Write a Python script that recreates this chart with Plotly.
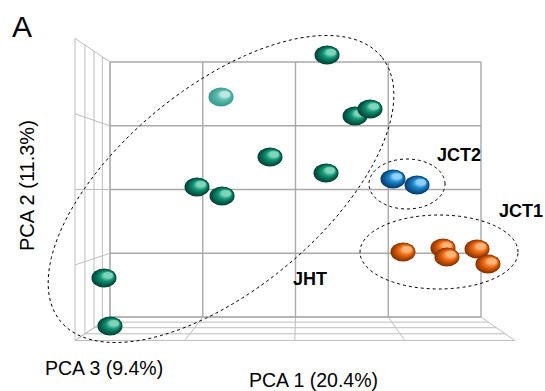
import math
import plotly.graph_objects as go

# ---------------- data (projected PCA scores) ----------------
pca_ticks_x = [-20, -10, 0, 10, 20]      # PCA 1 grid
pca_ticks_y = [-20, -10, 0, 10, 20]      # PCA 2 grid
pca3_levels = [0, 1, 2, 3, 4]            # PCA 3 depth grid

jht_x = [-20.00, -20.65, -7.92, -10.62, -2.75, 3.29, 6.42, 8.03, 3.40]
jht_y = [-21.41, -13.88, -1.02, 0.39, 5.10, 2.59, 11.53, 12.63, 21.10]
jht_far_x = [-8.03]
jht_far_y = [14.51]

jct2_x = [10.51, 13.10]
jct2_y = [1.65, 0.71]

jct1_x = [11.59, 15.90, 16.33, 19.57, 20.75]
jct1_y = [-9.80, -9.18, -10.59, -9.33, -11.69]

group_labels = ["JHT", "JCT2", "JCT1"]
axis_titles = ["PCA 1 (20.4%)", "PCA 2 (11.3%)", "PCA 3 (9.4%)"]

# ---------------- geometry helpers ----------------
W, H = 545, 391
PX_X = 9.275   # pixels per PCA-1 unit
PX_Y = 6.375   # pixels per PCA-2 unit
X0 = -20 - 110 / PX_X
X1 = X0 + W / PX_X
Y1 = 20 + 62 / PX_Y
Y0 = Y1 - H / PX_Y
VP = (0.4, -0.1)
DK = 0.039


def proj(x, y, k):
    s = 1.0 / (1.0 - DK * k)
    return VP[0] + (x - VP[0]) * s, VP[1] + (y - VP[1]) * s


def seg(xs, ys, a, b):
    xs += [a[0], b[0], None]
    ys += [a[1], b[1], None]


xmin, xmax = pca_ticks_x[0], pca_ticks_x[-1]
ymin, ymax = pca_ticks_y[0], pca_ticks_y[-1]
kmax = pca3_levels[-1]

# back wall
bx, by = [], []
for t in pca_ticks_x:
    seg(bx, by, (t, ymin), (t, ymax))
for t in pca_ticks_y:
    seg(bx, by, (xmin, t), (xmax, t))

# left wall + floor
sx, sy = [], []
for k in pca3_levels:
    seg(sx, sy, proj(xmin, ymin, k), proj(xmin, ymax, k))
    seg(sx, sy, proj(xmin, ymin, k), proj(xmax, ymin, k))
for t in pca_ticks_y:
    seg(sx, sy, proj(xmin, t, 0), proj(xmin, t, kmax))
for t in pca_ticks_x:
    seg(sx, sy, proj(t, ymin, 0), proj(t, ymin, kmax))

fig = go.Figure()
fig.add_trace(go.Scatter(x=sx, y=sy, mode="lines", line=dict(color="#bdbdbd", width=1),
                         hoverinfo="skip"))
fig.add_trace(go.Scatter(x=bx, y=by, mode="lines", line=dict(color="#a9a9a9", width=1.4),
                         hoverinfo="skip"))


def hex2rgb(h):
    h = h.lstrip("#")
    return tuple(int(h[i:i + 2], 16) for i in (0, 2, 4))


def mix(c1, c2, t):
    a, b = hex2rgb(c1), hex2rgb(c2)
    return "rgb(%d,%d,%d)" % tuple(round(a[i] + (b[i] - a[i]) * t) for i in range(3))


def spheres(xs, ys, dark, main, light, name):
    # point markers (drawn through the axes), then shaded ellipsoid glyphs on top
    fig.add_trace(go.Scatter(
        x=xs, y=ys, mode="markers", name=name,
        marker=dict(size=17, color=dark, line=dict(width=0))))
    n = 9
    for x, y in zip(xs, ys):
        for i in range(n + 1):
            t = i / n
            w = 12.5 * (1 - 0.62 * t)
            h = 9.5 * (1 - 0.68 * t)
            ox = 4.0 * t
            oy = 2.6 * t
            if t <= 0.65:
                col = mix(dark, main, t / 0.65)
            else:
                col = mix(main, light, (t - 0.65) / 0.35)
            fig.add_shape(type="circle", xref="x", yref="y",
                          xsizemode="pixel", ysizemode="pixel",
                          xanchor=x, yanchor=y,
                          x0=ox - w, x1=ox + w, y0=oy - h, y1=oy + h,
                          fillcolor=col, line=dict(width=0), layer="above")


spheres(jht_far_x, jht_far_y, "#3a9c8d", "#5bbdae", "#bfe8df", "JHT")
spheres(jht_x, jht_y, "#034436", "#0e9474", "#7fd3b8", "JHT")
spheres(jct2_x, jct2_y, "#083f72", "#1a88cc", "#8fd0f8", "JCT2")
spheres(jct1_x, jct1_y, "#8c3300", "#f06c12", "#ffb47a", "JCT1")

# ---------------- group ellipses ----------------


def ellipse_path(cx_px, cy_px, a, b, ang_deg, n=120):
    ang = math.radians(ang_deg)
    pts = []
    for i in range(n + 1):
        t = 2 * math.pi * i / n
        dx = a * math.cos(t) * math.cos(ang) - b * math.sin(t) * math.sin(ang)
        dy = a * math.cos(t) * math.sin(ang) + b * math.sin(t) * math.cos(ang)
        px = cx_px + dx
        py = cy_px - dy
        pts.append((X0 + px / PX_X, Y1 - py / PX_Y))
    return "M " + " L ".join(f"{x:.3f},{y:.3f}" for x, y in pts) + " Z"


dot = dict(color="black", width=1, dash="dot")
fig.add_shape(type="path", path=ellipse_path(221, 189, 208, 101, 39.5),
              xref="x", yref="y", line=dot, layer="above")
fig.add_shape(type="path", path=ellipse_path(407, 184, 38, 25, 0),
              xref="x", yref="y", line=dot, layer="above")
fig.add_shape(type="path", path=ellipse_path(439, 252, 79, 37, 0),
              xref="x", yref="y", line=dot, layer="above")

# ---------------- text ----------------
FONT = "Liberation Sans, Arial, Helvetica, sans-serif"


def ann(text, px, py, size, bold=False, angle=0):
    fig.add_annotation(
        x=px / W, y=1 - py / H, xref="paper", yref="paper", text=f"<b>{text}</b>" if bold else text,
        showarrow=False, textangle=angle, xanchor="center", yanchor="middle",
        font=dict(family=FONT, size=size, color="black"))


ann("A", 22, 26, 30)
ann(axis_titles[1], 27, 186, 20, angle=-90)
ann(axis_titles[2], 104, 368, 19.5)
ann(axis_titles[0], 313, 380, 19.5)
ann(group_labels[0], 310, 279, 18, bold=True)
ann(group_labels[1], 459, 155, 18, bold=True)
ann(group_labels[2], 521, 211, 18, bold=True)

fig.update_layout(
    width=W, height=H, margin=dict(l=0, r=0, t=0, b=0),
    paper_bgcolor="white", plot_bgcolor="white", showlegend=False,
    xaxis=dict(range=[X0, X1], visible=False, fixedrange=True),
    yaxis=dict(range=[Y0, Y1], visible=False, fixedrange=True),
)

fig.write_html("out.html", config={"displayModeBar": False},
               post_script="document.body.style.margin='0';document.body.style.overflow='hidden';")
